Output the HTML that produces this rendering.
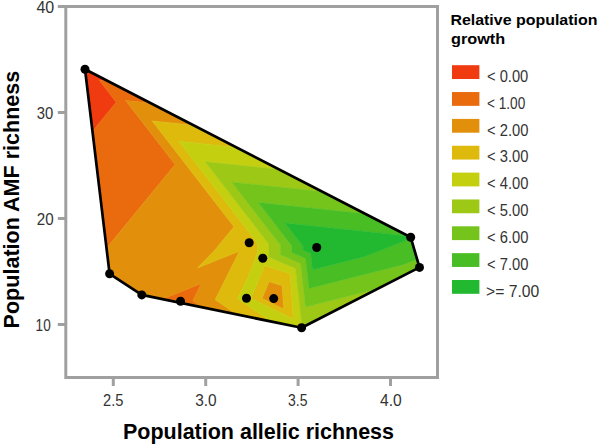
<!DOCTYPE html>
<html><head><meta charset="utf-8"><style>
html,body{margin:0;padding:0;background:#fff;}
svg{display:block;font-family:"Liberation Sans",sans-serif;}
</style></head><body>
<svg width="602" height="445" viewBox="0 0 602 445">
<rect width="602" height="445" fill="#fff"/>
<g stroke="#A0A0A0" stroke-width="3" fill="none">
<rect x="65.8" y="6.5" width="371.7" height="371"/>
<line x1="57.8" y1="6.5" x2="66" y2="6.5"/><line x1="57.8" y1="112.5" x2="66" y2="112.5"/><line x1="57.8" y1="218.5" x2="66" y2="218.5"/><line x1="57.8" y1="324.5" x2="66" y2="324.5"/><line x1="113.3" y1="377" x2="113.3" y2="386"/><line x1="205.7" y1="377" x2="205.7" y2="386"/><line x1="298.1" y1="377" x2="298.1" y2="386"/><line x1="390.5" y1="377" x2="390.5" y2="386"/>
</g>
<g stroke-width="0.5" stroke-linejoin="round">
<path fill="#F03A0F" stroke="#F03A0F" d="M107.7,80.9L85.0,69.2L92.5,131.2L116.2,102.2L99.1,80.0Z"/>
<path fill="#EA6A0E" stroke="#EA6A0E" d="M99.1,80.0L116.2,102.2L92.5,131.2L106.5,248.3L175.1,164.4L125.6,100.5L150.6,103.1L107.7,80.9ZM163.8,298.5L199.8,305.4L192.8,300.7L201.4,283.5ZM274.2,299.2L274.2,297.9L273.4,297.7L273.1,298.6Z"/>
<path fill="#E2900C" stroke="#E2900C" d="M125.6,100.5L175.1,164.4L106.5,248.3L109.6,273.8L141.8,294.9L162.3,299.1L235.0,313.2L215.2,299.7L239.4,251.2L197.5,267.9L214.5,250.5L234.0,226.7L152.2,120.9L193.5,125.2L150.6,103.1ZM163.8,298.5L201.4,283.5L192.8,300.7L199.8,305.4ZM262.0,298.5L283.7,309.1L282.2,285.8L269.1,281.6ZM274.2,297.9L274.2,299.2L273.1,298.6L273.4,297.7Z"/>
<path fill="#DDBA0C" stroke="#DDBA0C" d="M152.2,120.9L234.0,226.7L214.5,250.5L197.5,267.9L239.4,251.2L215.2,299.7L235.0,313.2L162.3,299.1L235.9,314.3L270.2,320.9L237.6,298.7L247.4,278.9L257.6,252.3L257.6,243.4L178.7,141.3L236.4,147.4L193.5,125.2ZM250.9,298.3L293.2,319.0L290.3,273.7L264.8,265.6ZM283.7,309.1L262.0,298.5L269.1,281.6L282.2,285.8Z"/>
<path fill="#C4CF10" stroke="#C4CF10" d="M178.7,141.3L257.6,243.4L257.6,252.3L247.4,278.9L237.6,298.7L270.2,320.9L235.9,314.3L301.6,327.8L309.0,324.0L302.0,325.8L295.5,268.4L268.9,257.0L269.0,244.2L205.3,161.8L279.3,169.5L236.4,147.4ZM264.8,265.6L290.3,273.7L293.2,319.0L250.9,298.3Z"/>
<path fill="#9DC916" stroke="#9DC916" d="M279.3,169.5L205.3,161.8L269.0,244.2L268.9,257.0L295.5,268.4L302.0,325.8L309.0,324.0L377.8,288.8L305.5,307.1L300.6,263.4L280.3,254.7L280.4,245.0L231.8,182.2L322.2,191.6Z"/>
<path fill="#74C41C" stroke="#74C41C" d="M322.2,191.6L231.8,182.2L280.4,245.0L280.3,254.7L300.6,263.4L305.5,307.1L377.8,288.8L419.5,267.4L417.1,259.3L403.9,264.4L309.0,288.5L305.6,258.4L291.7,252.5L291.7,245.8L258.4,202.6L365.1,213.8Z"/>
<path fill="#48BE24" stroke="#48BE24" d="M365.1,213.8L258.4,202.6L291.7,245.8L291.7,252.5L305.6,258.4L309.0,288.5L403.9,264.4L417.1,259.3L411.1,238.6L364.2,256.7L312.5,269.8L310.7,253.5L303.1,250.2L303.1,246.6L284.9,223.1L408.0,235.9Z"/>
<path fill="#22B830" stroke="#22B830" d="M411.1,238.6L410.7,237.3L408.0,235.9L284.9,223.1L303.1,246.6L303.1,250.2L310.7,253.5L312.5,269.8L364.2,256.7Z"/>
</g>
<polygon points="419.5,267.4 301.6,327.8 141.8,294.9 109.6,273.8 85.0,69.2 410.7,237.3" fill="none" stroke="#000" stroke-width="2.7" stroke-linejoin="round"/>
<g fill="#000">
<circle cx="85.0" cy="69.2" r="4.5"/>
<circle cx="109.6" cy="273.8" r="4.5"/>
<circle cx="141.8" cy="294.9" r="4.5"/>
<circle cx="180.5" cy="301.2" r="4.5"/>
<circle cx="246.5" cy="298.3" r="4.5"/>
<circle cx="249.2" cy="242.8" r="4.5"/>
<circle cx="262.8" cy="258.2" r="4.5"/>
<circle cx="273.7" cy="298.6" r="4.5"/>
<circle cx="301.6" cy="327.8" r="4.5"/>
<circle cx="316.7" cy="247.5" r="4.5"/>
<circle cx="410.7" cy="237.3" r="4.5"/>
<circle cx="419.5" cy="267.4" r="4.5"/>
</g>
<text x="36.40" y="12.60" font-size="16.89" textLength="17.82" lengthAdjust="spacingAndGlyphs" fill="#333">40</text>
<text x="36.80" y="118.70" font-size="16.89" textLength="16.47" lengthAdjust="spacingAndGlyphs" fill="#333">30</text>
<text x="36.80" y="224.70" font-size="16.89" textLength="16.88" lengthAdjust="spacingAndGlyphs" fill="#333">20</text>
<text x="35.60" y="330.60" font-size="16.89" textLength="15.08" lengthAdjust="spacingAndGlyphs" fill="#333">10</text>
<text x="103.00" y="406.00" font-size="16.89" textLength="20.40" lengthAdjust="spacingAndGlyphs" fill="#333">2.5</text>
<text x="195.20" y="405.70" font-size="16.89" textLength="21.48" lengthAdjust="spacingAndGlyphs" fill="#333">3.0</text>
<text x="288.00" y="405.70" font-size="16.89" textLength="19.44" lengthAdjust="spacingAndGlyphs" fill="#333">3.5</text>
<text x="380.00" y="405.70" font-size="16.89" textLength="21.70" lengthAdjust="spacingAndGlyphs" fill="#333">4.0</text>
<text x="123.00" y="439.40" font-size="21.43" font-weight="bold" textLength="271.02" lengthAdjust="spacingAndGlyphs" fill="#000">Population allelic richness</text>
<text transform="translate(19,327.6) rotate(-90)" x="-0.80" y="-0.10" font-size="21.37" font-weight="bold" textLength="257.62" lengthAdjust="spacingAndGlyphs" fill="#000">Population AMF richness</text>
<text x="450.40" y="24.80" font-size="14.75" font-weight="bold" textLength="147.01" lengthAdjust="spacingAndGlyphs" fill="#000">Relative population</text>
<text x="451.00" y="44.30" font-size="14.75" font-weight="bold" textLength="54.21" lengthAdjust="spacingAndGlyphs" fill="#000">growth</text>
<rect x="452" y="65.20" width="27.4" height="13.8" fill="#F03A0F"/>
<text x="487.00" y="81.90" font-size="16.00" textLength="41.21" lengthAdjust="spacingAndGlyphs" fill="#333">&lt; 0.00</text>
<rect x="452" y="92.05" width="27.4" height="13.8" fill="#EA6A0E"/>
<text x="487.00" y="108.75" font-size="16.00" textLength="38.21" lengthAdjust="spacingAndGlyphs" fill="#333">&lt; 1.00</text>
<rect x="452" y="118.90" width="27.4" height="13.8" fill="#E2900C"/>
<text x="487.00" y="135.60" font-size="16.00" textLength="41.40" lengthAdjust="spacingAndGlyphs" fill="#333">&lt; 2.00</text>
<rect x="452" y="145.75" width="27.4" height="13.8" fill="#DDBA0C"/>
<text x="487.00" y="162.45" font-size="16.00" textLength="41.40" lengthAdjust="spacingAndGlyphs" fill="#333">&lt; 3.00</text>
<rect x="452" y="172.60" width="27.4" height="13.8" fill="#C4CF10"/>
<text x="487.00" y="189.30" font-size="16.00" textLength="41.40" lengthAdjust="spacingAndGlyphs" fill="#333">&lt; 4.00</text>
<rect x="452" y="199.45" width="27.4" height="13.8" fill="#9DC916"/>
<text x="487.00" y="216.15" font-size="16.00" textLength="41.40" lengthAdjust="spacingAndGlyphs" fill="#333">&lt; 5.00</text>
<rect x="452" y="226.30" width="27.4" height="13.8" fill="#74C41C"/>
<text x="487.00" y="243.00" font-size="16.00" textLength="41.40" lengthAdjust="spacingAndGlyphs" fill="#333">&lt; 6.00</text>
<rect x="452" y="253.15" width="27.4" height="13.8" fill="#48BE24"/>
<text x="487.00" y="269.85" font-size="16.00" textLength="41.40" lengthAdjust="spacingAndGlyphs" fill="#333">&lt; 7.00</text>
<rect x="452" y="280.00" width="27.4" height="13.8" fill="#22B830"/>
<text x="486.00" y="296.70" font-size="16.00" textLength="53.23" lengthAdjust="spacingAndGlyphs" fill="#333">&gt;= 7.00</text>

</svg>
</body></html>
